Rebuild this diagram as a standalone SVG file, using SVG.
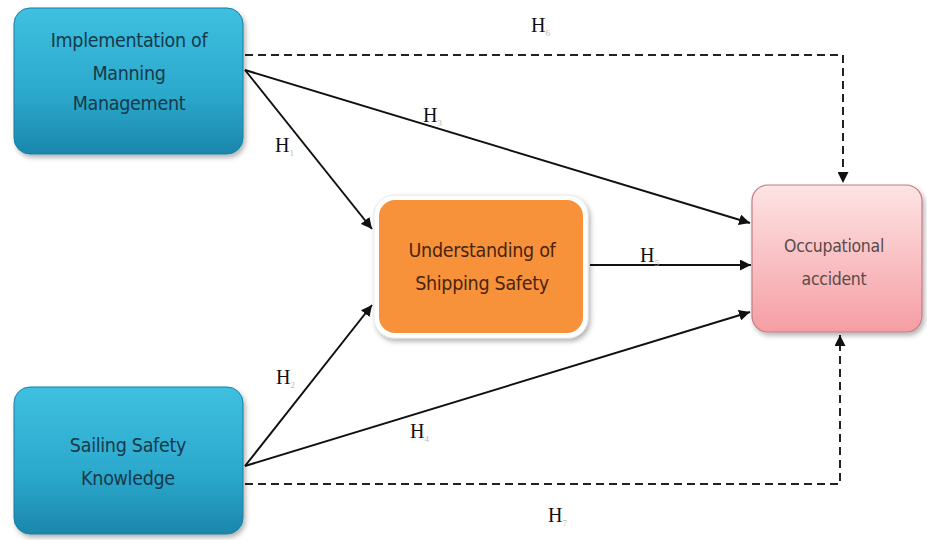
<svg xmlns="http://www.w3.org/2000/svg" width="927" height="540" viewBox="0 0 927 540">
<style>
.lbl{font-family:"Liberation Serif","DejaVu Serif",serif;font-size:20px;fill:#111}
.sub{font-family:"Liberation Serif",serif;font-size:9px;fill:#bbb}
.nt{font-family:"DejaVu Sans Condensed","DejaVu Sans",sans-serif;font-size:19.5px;text-anchor:middle;letter-spacing:-0.3px}
.solid{stroke:#111;stroke-width:2;fill:none}
.dash{stroke:#222;stroke-width:2;fill:none;stroke-dasharray:8,5}
</style>
<defs>
<linearGradient id="blue" x1="0" y1="0" x2="0" y2="1">
<stop offset="0" stop-color="#3fc0e0"/><stop offset="0.6" stop-color="#2ba8cc"/><stop offset="1" stop-color="#1b86ac"/>
</linearGradient>
<linearGradient id="pink" x1="0" y1="0" x2="0" y2="1">
<stop offset="0" stop-color="#fde4e4"/><stop offset="1" stop-color="#f59ea4"/>
</linearGradient>
<filter id="sh" x="-10%" y="-10%" width="125%" height="125%">
<feDropShadow dx="2" dy="3" stdDeviation="2.5" flood-color="#000" flood-opacity="0.3"/>
</filter>
<marker id="ah" viewBox="0 0 10 10" refX="10" refY="5" markerWidth="5.5" markerHeight="5.5" orient="auto" markerUnits="strokeWidth">
<path d="M0,0 L10,5 L0,10 z" fill="#111"/>
</marker>
</defs>
<rect width="927" height="540" fill="#fff"/>
<g id="connectors">
<path class="dash" d="M245,55 H843 V183" marker-end="url(#ah)"/>
<path class="dash" d="M245,484 H840 V335" marker-end="url(#ah)"/>
<line class="solid" x1="245" y1="70" x2="750" y2="223" marker-end="url(#ah)"/>
<line class="solid" x1="245" y1="70" x2="372" y2="229" marker-end="url(#ah)"/>
<line class="solid" x1="590" y1="265" x2="751" y2="265" marker-end="url(#ah)"/>
<line class="solid" x1="245" y1="466" x2="372" y2="305" marker-end="url(#ah)"/>
<line class="solid" x1="245" y1="466" x2="750" y2="312" marker-end="url(#ah)"/>
</g>
<g id="labels">
<text class="lbl" x="531" y="32">H<tspan class="sub" dy="4">6</tspan></text>
<text class="lbl" x="423" y="122">H<tspan class="sub" dy="4">3</tspan></text>
<text class="lbl" x="275" y="152">H<tspan class="sub" dy="4">1</tspan></text>
<text class="lbl" x="640" y="262">H<tspan class="sub" dy="4">5</tspan></text>
<text class="lbl" x="276" y="384">H<tspan class="sub" dy="4">2</tspan></text>
<text class="lbl" x="410" y="438">H<tspan class="sub" dy="4">4</tspan></text>
<text class="lbl" x="548" y="522">H<tspan class="sub" dy="4">7</tspan></text>
</g>
<g id="node-manning">
<rect x="14" y="8" width="229" height="146" rx="16" fill="url(#blue)" stroke="#1a7ea0" stroke-width="1" filter="url(#sh)"/>
<text class="nt" fill="#153a4a"><tspan x="129" y="47">Implementation of</tspan><tspan x="129" y="80">Manning</tspan><tspan x="129" y="110">Management</tspan></text>
</g>
<g id="node-sailing">
<rect x="14" y="387" width="229" height="147" rx="16" fill="url(#blue)" stroke="#1a7ea0" stroke-width="1" filter="url(#sh)"/>
<text class="nt" fill="#153a4a"><tspan x="128" y="452">Sailing Safety</tspan><tspan x="128" y="485">Knowledge</tspan></text>
</g>
<g id="node-understanding">
<rect x="374" y="195" width="214" height="143" rx="20" fill="#fff" stroke="#e8e8e8" stroke-width="1" filter="url(#sh)"/>
<rect x="379" y="200" width="204" height="133" rx="16" fill="#f7923a"/>
<text class="nt" fill="#4a2410"><tspan x="482" y="257">Understanding of</tspan><tspan x="482" y="290">Shipping Safety</tspan></text>
</g>
<g id="node-accident">
<rect x="752" y="185" width="170" height="147" rx="16" fill="url(#pink)" stroke="#c27c84" stroke-width="1.2" filter="url(#sh)"/>
<text class="nt" fill="#5a4a4a" style="font-size:17.5px"><tspan x="834" y="252">Occupational</tspan><tspan x="834" y="285">accident</tspan></text>
</g>
</svg>
